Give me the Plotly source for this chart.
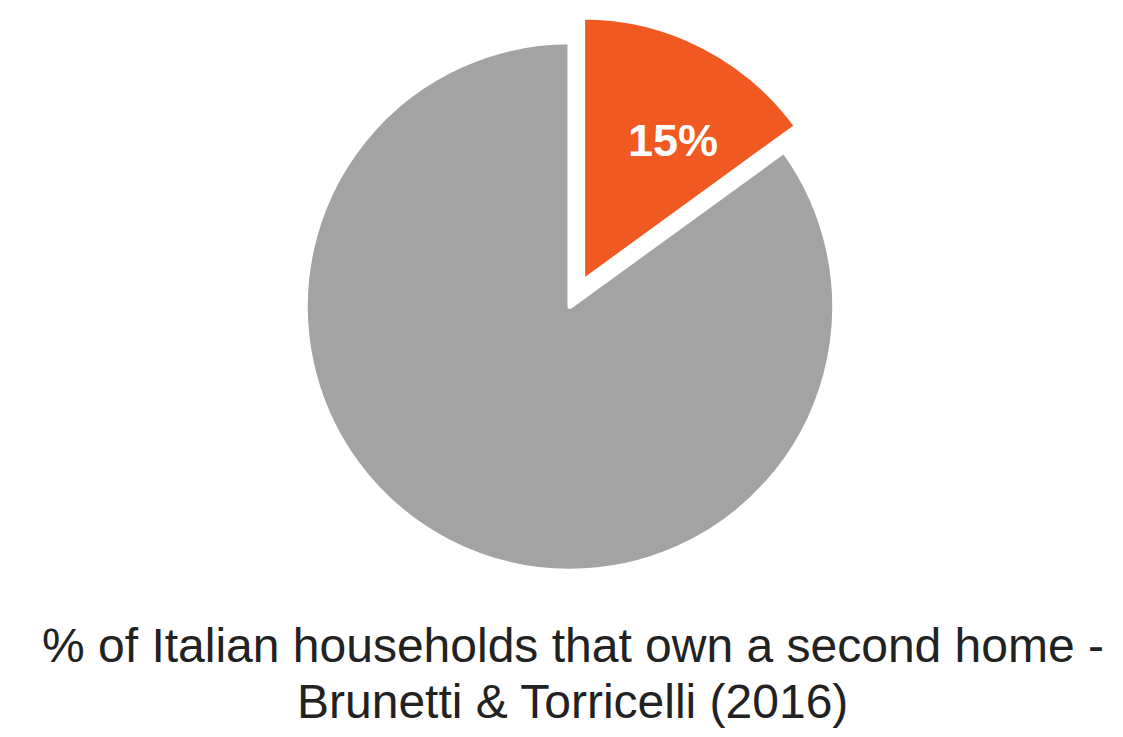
import plotly.graph_objects as go

# Share of Italian households owning a second home
labels = ["Own a second home", "Do not own a second home"]
values = [15, 85]
colors = ["#F05A22", "#A3A3A3"]
pulls = [0.105, 0]
caption_lines = [
    "% of Italian households that own a second home -",
    "Brunetti &amp; Torricelli (2016)",
]

fig = go.Figure(
    go.Pie(
        labels=labels,
        values=values,
        sort=False,
        direction="clockwise",
        rotation=0,
        pull=pulls,
        marker=dict(colors=colors, line=dict(color="white", width=5)),
        textinfo="none",
        hoverinfo="label+percent",
        showlegend=False,
        domain=dict(x=[0.2471, 0.7680], y=[0.1872, 0.9810]),
    )
)

# Percentage label for the highlighted slice, computed from the values
share = values[0] / sum(values)
fig.add_annotation(
    text=f"{share:.0%}",
    x=0.5993, y=0.809, xref="paper", yref="paper",
    xanchor="center", yanchor="middle", showarrow=False,
    font=dict(family="Liberation Sans", size=45, color="white", weight="bold"),
)

# Two-line caption below the pie
for line, ypos in zip(caption_lines, [0.1248, 0.0475]):
    fig.add_annotation(
        text=line,
        x=0.51, y=ypos, xref="paper", yref="paper",
        xanchor="center", yanchor="middle",
        showarrow=False,
        font=dict(family="Liberation Sans", size=48, color="#222222"),
    )

fig.update_layout(
    width=1123, height=737,
    margin=dict(l=0, r=0, t=0, b=0),
    paper_bgcolor="white",
    plot_bgcolor="white",
)

fig.write_html("out.html")
